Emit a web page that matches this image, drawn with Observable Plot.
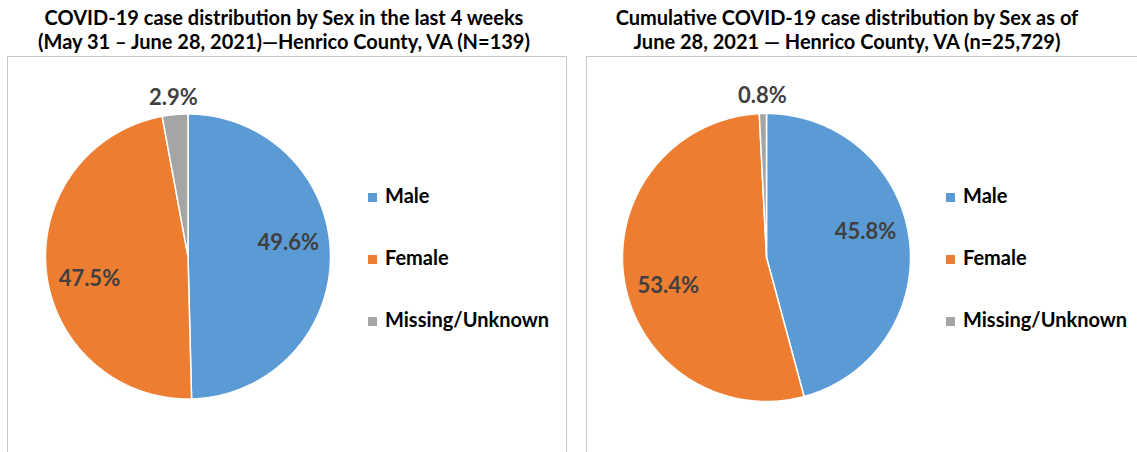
<!DOCTYPE html>
<html><head><meta charset="utf-8">
<script src="https://cdn.jsdelivr.net/npm/d3@7"></script>
<script src="https://cdn.jsdelivr.net/npm/@observablehq/plot@0.6"></script>
<style>
body{margin:0;width:1137px;height:452px;overflow:hidden;background:#fff;font-family:Lato,"Liberation Sans",sans-serif;position:relative}
.title{position:absolute;top:5px;text-align:center;font-weight:bold;font-size:20px;line-height:24px;color:#000;white-space:nowrap}
.panel{position:absolute;top:56px;height:420px;border:1px solid #c8c8c8;box-sizing:border-box}
.plot{position:absolute;top:56px}
.leg{position:absolute;font-weight:bold;font-size:20px;color:#000;white-space:nowrap;line-height:20px}
.leg span.sw{display:inline-block;width:9px;height:9px;margin-right:8px;vertical-align:1px}
</style></head>
<body>
<script>
const categories = ["Male", "Female", "Missing/Unknown"];
const last4Weeks = [49.6, 47.5, 2.9];
const cumulative = [45.8, 53.4, 0.8];
const colors = ["#5B9BD5", "#ED7D31", "#A5A5A5"];
const titleLeft = ["COVID-19 case distribution by Sex in the last 4 weeks", "(May 31 \u2013 June 28, 2021)\u2014Henrico County, VA (N=139)"];
const titleRight = ["Cumulative COVID-19 case distribution by Sex as of", "June 28, 2021 \u2014 Henrico County, VA (n=25,729)"];

function pie(values, opts) {
  const {left, W, H, cx, cy, R} = opts;
  const total = d3.sum(values);
  let acc = 0;
  const slices = values.map((v, i) => {
    const a0 = acc / total * 2 * Math.PI; acc += v;
    const a1 = acc / total * 2 * Math.PI;
    return {cat: categories[i], v, a0, a1};
  });
  const pts = [];
  for (const s of slices) {
    pts.push({cat: s.cat, x: 0, y: 0});
    const n = Math.max(2, Math.ceil((s.a1 - s.a0) / (Math.PI / 360)));
    for (let k = 0; k <= n; k++) {
      const t = s.a0 + (s.a1 - s.a0) * k / n;
      pts.push({cat: s.cat, x: Math.sin(t), y: Math.cos(t)});
    }
    pts.push({cat: s.cat, x: 0, y: 0});
  }
  const labels = slices.map(s => {
    const mid = (s.a0 + s.a1) / 2;
    const big = s.v > 10;
    const a = big ? mid - 7 * Math.PI / 180 : mid;
    const r = big ? 0.71 : 1.12;
    return {x: r * Math.sin(a), y: r * Math.cos(a), text: s.v.toFixed(1) + "%"};
  });
  const svg = Plot.plot({
    width: W, height: H, margin: 0,
    x: {domain: [-cx / R, (W - cx) / R], range: [0, W], axis: null},
    y: {domain: [-(H - cy) / R, cy / R], range: [H, 0], axis: null},
    color: {domain: categories, range: colors},
    marks: [
      Plot.line(pts, {x: "x", y: "y", z: "cat", fill: "cat", stroke: "white", strokeWidth: 1.5, curve: "linear"}),
      Plot.text(labels, {x: "x", y: "y", text: "text", fontSize: 22, fontWeight: "bold", fill: "#404040"})
    ]
  });
  svg.classList.add("plot");
  svg.style.left = left + "px";
  svg.style.fontFamily = "Lato, 'Liberation Sans', sans-serif";
  document.body.appendChild(svg);
}

function panel(left, width) {
  const d = document.createElement("div");
  d.className = "panel"; d.style.left = left + "px"; d.style.width = width + "px";
  document.body.appendChild(d);
}
function title(lines, center) {
  const d = document.createElement("div");
  d.className = "title"; d.style.left = (center - 300) + "px"; d.style.width = "600px";
  d.innerHTML = lines.join("<br>");
  document.body.appendChild(d);
}
function legend(x) {
  categories.forEach((c, i) => {
    const d = document.createElement("div");
    d.className = "leg"; d.style.left = x + "px"; d.style.top = (185 + i * 62) + "px";
    d.innerHTML = `<span class="sw" style="background:${colors[i]}"></span>${c}`;
    document.body.appendChild(d);
  });
}

panel(7, 560);
panel(586, 560);
title(titleLeft, 284);
title(titleRight, 847);
pie(last4Weeks, {left: 7, W: 559, H: 396, cx: 180.5, cy: 200, R: 142.5});
pie(cumulative, {left: 586, W: 551, H: 396, cx: 180, cy: 201, R: 144});
legend(368);
legend(946);
</script>
</body></html>
